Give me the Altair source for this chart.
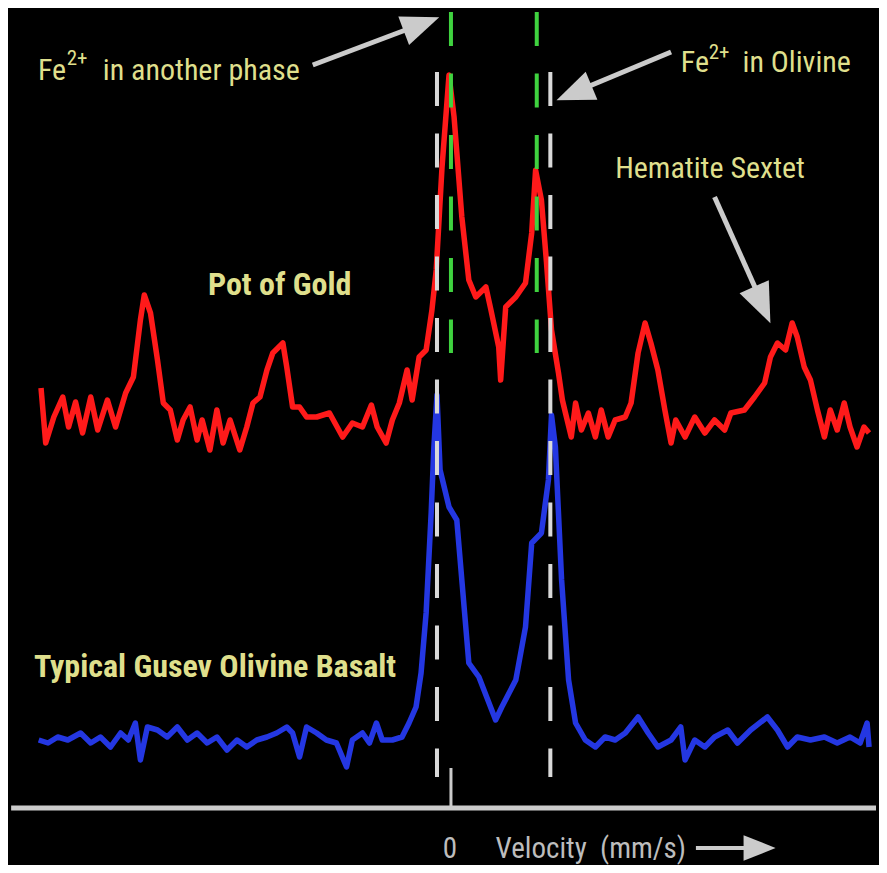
import altair as alt
import pandas as pd

# ---------------- data (velocity in mm/s, relative absorption in arbitrary units) ----------------
red_v = [-10.56, -10.44, -10.23, -10.00, -9.85, -9.67, -9.49, -9.28, -9.10, -8.85, -8.64, -8.38,
         -8.18, -8.00, -7.90, -7.74, -7.56, -7.41, -7.23, -7.05, -6.90, -6.72, -6.54, -6.41,
         -6.21, -6.03, -5.87, -5.69, -5.44, -5.26, -5.10, -4.92, -4.74, -4.59, -4.33, -4.23,
         -4.08, -3.90, -3.72, -3.46, -3.13, -2.79, -2.54, -2.28, -2.05, -1.90, -1.67, -1.51,
         -1.33, -1.13, -1.00, -0.82, -0.64, -0.49, -0.38, -0.23, -0.05, 0.08, 0.28, 0.46,
         0.64, 0.90, 1.03, 1.23, 1.28, 1.41, 1.67, 1.92, 2.08, 2.18, 2.33, 2.46,
         2.59, 2.77, 2.87, 2.95, 3.10, 3.21, 3.36, 3.54, 3.72, 3.87, 4.05, 4.23,
         4.49, 4.64, 4.82, 5.00, 5.15, 5.33, 5.51, 5.67, 5.79, 6.03, 6.28, 6.54,
         6.79, 7.05, 7.21, 7.56, 7.82, 8.08, 8.23, 8.41, 8.62, 8.79, 8.92, 9.10,
         9.26, 9.44, 9.62, 9.77, 9.95, 10.13, 10.28, 10.46, 10.64, 10.77]
red_a = [41.8, 36.3, 38.9, 40.9, 37.9, 40.4, 37.3, 40.9, 37.6, 40.6, 37.9, 41.3,
         42.9, 48.6, 51.1, 49.3, 44.6, 40.3, 39.6, 36.6, 38.6, 39.9, 36.6, 38.6,
         35.6, 39.6, 36.3, 38.6, 35.6, 37.9, 40.3, 40.9, 43.6, 45.3, 46.3, 43.9,
         39.9, 39.9, 38.9, 38.9, 39.3, 36.9, 38.3, 37.9, 40.1, 37.9, 36.3, 38.6,
         40.3, 43.6, 40.6, 44.9, 45.6, 49.6, 53.6, 63.9, 73.1, 68.9, 58.9, 52.6,
         50.9, 51.9, 49.6, 45.9, 42.6, 49.9, 50.9, 52.3, 57.3, 63.6, 60.6, 54.4,
         47.6, 43.3, 40.6, 39.3, 36.9, 40.3, 37.6, 39.3, 36.9, 39.6, 36.9, 38.6,
         38.9, 40.3, 45.3, 48.3, 46.3, 43.6, 39.6, 36.3, 38.6, 36.9, 38.9, 37.3,
         38.6, 37.6, 39.3, 39.6, 40.9, 42.3, 44.9, 46.3, 45.6, 48.3, 46.9, 43.9,
         42.6, 39.6, 36.9, 39.6, 37.6, 40.3, 37.9, 35.9, 37.9, 37.3]

blue_v = [-10.62, -10.38, -10.13, -9.87, -9.54, -9.28, -9.03, -8.77, -8.51, -8.31, -8.13, -8.00,
          -7.82, -7.56, -7.31, -7.05, -6.79, -6.54, -6.28, -6.03, -5.77, -5.51, -5.26, -5.00,
          -4.74, -4.49, -4.23, -4.08, -3.90, -3.72, -3.46, -3.21, -2.95, -2.69, -2.54, -2.28,
          -2.10, -1.92, -1.77, -1.51, -1.26, -1.08, -0.90, -0.77, -0.64, -0.51, -0.44, -0.36,
          -0.28, -0.05, 0.15, 0.28, 0.46, 0.72, 0.92, 1.15, 1.31, 1.67, 1.92, 2.08,
          2.33, 2.51, 2.59, 2.69, 2.85, 3.03, 3.21, 3.46, 3.72, 3.97, 4.23, 4.49,
          4.82, 5.08, 5.33, 5.67, 5.92, 6.03, 6.28, 6.54, 6.79, 7.13, 7.38, 7.72,
          8.15, 8.41, 8.67, 8.92, 9.26, 9.62, 9.95, 10.28, 10.54, 10.72, 10.77]
blue_a = [6.6, 6.3, 6.9, 6.6, 7.3, 6.3, 6.9, 5.9, 7.3, 6.6, 8.3, 4.6,
          7.9, 7.6, 6.9, 7.9, 6.6, 7.3, 6.3, 6.9, 5.6, 6.6, 5.9, 6.6,
          6.9, 7.3, 7.9, 7.3, 4.9, 7.9, 7.3, 6.6, 6.3, 3.9, 6.6, 7.3,
          6.3, 8.3, 6.6, 6.6, 6.9, 8.3, 9.9, 13.3, 19.3, 29.3, 35.9, 41.1,
          33.6, 29.9, 28.6, 22.6, 14.3, 12.9, 10.9, 8.6, 9.9, 12.6, 17.9, 26.3,
          27.3, 32.6, 39.1, 35.9, 22.6, 12.6, 8.3, 6.6, 5.9, 6.9, 6.6, 7.3,
          8.9, 7.3, 5.9, 6.6, 7.9, 4.6, 6.6, 5.9, 6.9, 7.6, 6.3, 7.6,
          8.9, 7.6, 5.9, 6.9, 6.6, 6.9, 6.3, 6.9, 6.3, 8.3, 5.9]

# reference lines (peak positions, mm/s)
olivine_lines = [-0.36, 2.56]      # white dashed
other_phase_lines = [0.0, 2.21]    # green dashed

# ---------------- layout / styles ----------------
X_DOM = [-11.385, 10.949]
Y_DOM = [-5.9, 79.8]
xs = alt.Scale(domain=X_DOM, nice=False, zero=False)
ys = alt.Scale(domain=Y_DOM, nice=False, zero=False)
FONT = "Roboto Condensed"
LABEL_COL = "#dfdf8c"
GREY = "#cbcbcb"

red_df = pd.DataFrame({"v": red_v, "a": red_a})
blue_df = pd.DataFrame({"v": blue_v, "a": blue_a})


def X(f="v"):
    return alt.X(f"{f}:Q", scale=xs, axis=None)


def Y(f="a"):
    return alt.Y(f"{f}:Q", scale=ys, axis=None)


red = alt.Chart(red_df).mark_line(color="#ff1a1a", strokeWidth=5.5, strokeJoin="round").encode(x=X(), y=Y())
blue = alt.Chart(blue_df).mark_line(color="#2437e2", strokeWidth=5.5, strokeJoin="round").encode(x=X(), y=Y())

white_df = pd.DataFrame({"v": olivine_lines, "top": [73.4] * 2, "bot": [2.9] * 2})
green_df = pd.DataFrame({"v": other_phase_lines, "top": [79.4] * 2, "bot": [45.3] * 2})
white = alt.Chart(white_df).mark_rule(color="#d9d9d9", strokeWidth=4, strokeDash=[34, 27.5]).encode(
    x=X(), y=Y("top"), y2="bot:Q")
green = alt.Chart(green_df).mark_rule(color="#3fd23f", strokeWidth=4, strokeDash=[34, 27.5]).encode(
    x=X(), y=Y("top"), y2="bot:Q")

axis_df = pd.DataFrame({"v": [-11.33], "v2": [10.949], "a": [-0.2]})
axis_line = alt.Chart(axis_df).mark_rule(color=GREY, strokeWidth=5).encode(x=X(), x2="v2:Q", y=Y())
tick_df = pd.DataFrame({"v": [0.0], "a": [3.8], "a2": [-0.2]})
tick = alt.Chart(tick_df).mark_rule(color=GREY, strokeWidth=3).encode(x=X(), y=Y(), y2="a2:Q")

shaft_df = pd.DataFrame({
    "v": [-3.56, 5.67, 6.79, 6.31],
    "a": [74.1, 75.4, 60.9, -4.2],
    "v2": [-1.17, 3.57, 7.84, 7.69],
    "a2": [77.6, 72.0, 51.8, -4.2],
    "w": [5, 5, 5, 4],
})
shafts = alt.Chart(shaft_df).mark_rule(color=GREY).encode(
    x=X(), y=Y(), x2="v2:Q", y2="a2:Q", strokeWidth=alt.StrokeWidth("w:Q", scale=None))

head_df = pd.DataFrame({
    "v": [-0.76, 3.17, 8.02, 7.95],
    "a": [78.2, 71.3, 50.1, -4.2],
    "ang": [69.3, 247.3, 156.0, 90.0],
    "sz": [1444, 1444, 1600, 1024],
})
heads = alt.Chart(head_df).mark_point(
    filled=True, color=GREY, opacity=1, shape="M0,-1L0.8,1L-0.8,1Z").encode(
    x=X(), y=Y(), angle=alt.Angle("ang:Q", scale=None), size=alt.Size("sz:Q", scale=None))

reg_df = pd.DataFrame({
    "t": ["Fe", "in another phase", "Fe", "in Olivine", "Hematite Sextet"],
    "v": [-10.64, -8.97, 5.92, 7.51, 4.23],
    "a": [72.6, 72.6, 73.4, 73.4, 62.8],
})
reg_text = alt.Chart(reg_df).mark_text(
    align="left", baseline="alphabetic", font=FONT, fontSize=30, color=LABEL_COL).encode(
    x=X(), y=Y(), text="t:N")

sup_df = pd.DataFrame({"t": ["2+", "2+"], "v": [-9.90, 6.64], "a": [74.1, 74.7]})
sup_text = alt.Chart(sup_df).mark_text(
    align="left", baseline="alphabetic", font=FONT, fontSize=21, color=LABEL_COL).encode(
    x=X(), y=Y(), text="t:N")

bold_df = pd.DataFrame({
    "t": ["Pot of Gold", "Typical Gusev Olivine Basalt"],
    "v": [-6.26, -10.74],
    "a": [51.1, 12.9],
})
bold_text = alt.Chart(bold_df).mark_text(
    align="left", baseline="alphabetic", font=FONT, fontSize=32, fontWeight="bold", color=LABEL_COL).encode(
    x=X(), y=Y(), text="t:N")

zero_df = pd.DataFrame({"t": ["0"], "v": [-0.03], "a": [-5.2]})
zero_text = alt.Chart(zero_df).mark_text(
    align="center", baseline="alphabetic", font=FONT, fontSize=29, color="#bdbdbd").encode(
    x=X(), y=Y(), text="t:N")
vel_df = pd.DataFrame({"t": ["Velocity\u00a0 (mm/s)"], "v": [1.15], "a": [-5.2]})
vel_text = alt.Chart(vel_df).mark_text(
    align="left", baseline="alphabetic", font=FONT, fontSize=29, color="#bdbdbd").encode(
    x=X(), y=Y(), text="t:N")

chart = alt.layer(
    red, blue, white, green, axis_line, tick, shafts, heads,
    reg_text, sup_text, bold_text, zero_text, vel_text,
).properties(
    width=871, height=857,
    autosize=alt.AutoSizeParams(type="fit", contains="padding"),
    padding=0,
    background="#000000",
).configure_view(stroke=None)

chart.save("out.html", embed_options={"renderer": "svg", "actions": False})
